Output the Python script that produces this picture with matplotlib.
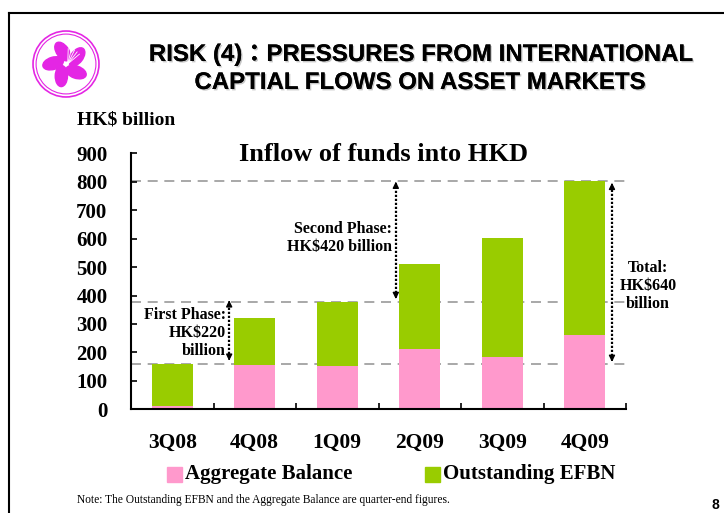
import matplotlib
matplotlib.use("Agg")
import matplotlib.pyplot as plt
import matplotlib.patches as mpatches
import matplotlib.patheffects as pe
import numpy as np

# ---- data ----
categories = ["3Q08", "4Q08", "1Q09", "2Q09", "3Q09", "4Q09"]
aggregate_balance = [10, 156, 152, 212, 184, 262]
outstanding_efbn = [149, 165, 225, 299, 418, 542]
phase_levels = [158, 377, 804]
y_ticks = [0, 100, 200, 300, 400, 500, 600, 700, 800, 900]
legend_labels = ["Aggregate Balance", "Outstanding EFBN"]

PINK = "#FF99CC"
GREEN = "#99CC00"

W, H = 724, 513
fig = plt.figure(figsize=(W / 100, H / 100), dpi=100)
renderer = fig.canvas.get_renderer()


def fx(x):
    return x / W


def fy(y):
    return 1 - y / H


# slide border (top and left visible)
fig.add_artist(plt.Line2D([fx(9), 1.0], [fy(13), fy(13)], color="black", lw=1.5))
fig.add_artist(plt.Line2D([fx(9), fx(9)], [fy(13), 0.0], color="black", lw=1.5))

# ---- logo ----
lax = fig.add_axes([fx(31), fy(98), fx(70), 1 - fy(68)])
lax.set_xlim(-1, 1)
lax.set_ylim(-1, 1)
lax.set_aspect("equal")
lax.axis("off")
MAG = "#E426E4"
lax.add_patch(mpatches.Circle((0, 0), 0.97, fill=False, ec=MAG, lw=1.2))
lax.add_patch(mpatches.Circle((0, 0), 0.88, fill=False, ec=MAG, lw=0.8))
for k in range(5):
    ang = 90 + 72 * k + 15
    r = 0.38
    cx, cy = r * np.cos(np.radians(ang)), r * np.sin(np.radians(ang))
    lax.add_patch(mpatches.Ellipse((cx, cy), 0.62, 0.36, angle=ang + 20, color=MAG))
for k in range(5):
    ang = 40 + 12 * k
    lax.plot([0.05, 0.05 + 0.45 * np.cos(np.radians(ang))],
             [0.0, 0.45 * np.sin(np.radians(ang))], color="white", lw=0.6)

# ---- title ----
shadow = [pe.withSimplePatchShadow(offset=(1.0, -1.0), shadow_rgbFace="#999999", alpha=0.55),
          pe.Normal()]
SANS = ["Liberation Sans", "DejaVu Sans"]
CJK = ["Noto Sans CJK TC", "DejaVu Sans"]
TSIZE = 17.3
title_pieces = [("RISK (4)", SANS), ("：", CJK), ("PRESSURES FROM INTERNATIONAL", SANS)]
title_line2 = "CAPTIAL FLOWS ON ASSET MARKETS"

# measure pieces of line 1 to centre them
widths = []
tmp = []
for s, fam in title_pieces:
    t = fig.text(0, 0, s, fontsize=TSIZE, fontweight="bold", family=fam)
    widths.append(t.get_window_extent(renderer).width)
    tmp.append(t)
for t in tmp:
    t.remove()
total = sum(widths)
xpos = 421 - total / 2
for (s, fam), w in zip(title_pieces, widths):
    fig.text(fx(xpos), fy(52), s, ha="left", va="center_baseline", fontsize=TSIZE,
             fontweight="bold", family=fam, path_effects=shadow)
    xpos += w
fig.text(fx(420), fy(80), title_line2, ha="center", va="center_baseline", fontsize=TSIZE,
         fontweight="bold", family=SANS, path_effects=shadow)

SERIF = ["Liberation Serif", "DejaVu Serif"]
fig.text(fx(77), fy(120), "HK$ billion", ha="left", va="center", fontsize=14,
         fontweight="bold", family=SERIF)

# ---- chart ----
ax = fig.add_axes([fx(131), fy(409.3), fx(626) - fx(131), fy(153.3) - fy(409.3)])
x = np.arange(len(categories))
ax.bar(x, aggregate_balance, width=0.5, color=PINK, zorder=2)
ax.bar(x, outstanding_efbn, width=0.5, bottom=aggregate_balance, color=GREEN, zorder=2)
ax.set_xlim(-0.5, len(categories) - 0.5)
ax.set_ylim(0, 900)

for spine in ["top", "right"]:
    ax.spines[spine].set_visible(False)
for spine in ["left", "bottom"]:
    ax.spines[spine].set_linewidth(1.5)

ax.set_yticks(y_ticks)
ax.set_yticklabels([str(v) for v in y_ticks], fontsize=15, fontweight="bold", family=SERIF)
ax.tick_params(axis="y", direction="in", length=4, width=1.2, pad=17)

ax.set_xticks(x)
ax.set_xticklabels(categories, fontsize=15.5, fontweight="bold", family=SERIF)
ax.tick_params(axis="x", which="major", length=0, pad=17)
ax.set_xticks(np.arange(-0.5, len(categories), 1.0)[1:], minor=True)
ax.tick_params(axis="x", which="minor", direction="in", length=4, width=1.2)

# dashed reference lines
for lvl in phase_levels:
    ax.axhline(lvl, color="#999999", lw=1.2, ls=(0, (6, 4)), zorder=1, clip_on=False)


def vertical_arrow(xc, y0, y1):
    ax.plot([xc, xc], [y0 + 8, y1 - 8], color="black", lw=1.6, ls=(0, (1, 0.8)), zorder=3)
    for a, b in [(y1 - 10, y1), (y0 + 10, y0)]:
        ax.annotate("", xy=(xc, b), xytext=(xc, a),
                    arrowprops=dict(arrowstyle="-|>", color="black", lw=1,
                                    mutation_scale=9, shrinkA=0, shrinkB=0), zorder=3)


vertical_arrow(0.69, 171, 383)
vertical_arrow(2.71, 388, 800)
vertical_arrow(5.33, 167, 796)

ann_kw = dict(fontsize=11.5, fontweight="bold", family=SERIF, linespacing=1.15)
fig.text(fx(226), fy(333), "First Phase:\nHK$220\nbillion", ha="right", va="center", **ann_kw)
fig.text(fx(392), fy(238), "Second Phase:\nHK$420 billion", ha="right", va="center", **ann_kw)
fig.text(fx(648), fy(286), "Total:\nHK$640\nbillion", ha="center", va="center", multialignment="center", **ann_kw)

fig.text(fx(383.5), fy(155), "Inflow of funds into HKD", ha="center", va="center",
         fontsize=19, fontweight="bold", family=SERIF)

# ---- legend ----
for (x0, col, lab) in [(167, PINK, legend_labels[0]), (425, GREEN, legend_labels[1])]:
    fig.add_artist(mpatches.Rectangle((fx(x0), fy(482)), 15 / W, 15 / H, color=col,
                                      transform=fig.transFigure))
    fig.text(fx(x0 + 18), fy(474), lab, ha="left", va="center", fontsize=15,
             fontweight="bold", family=SERIF)

fig.text(fx(77), fy(500), "Note: The Outstanding EFBN and the Aggregate Balance are quarter-end figures.",
         ha="left", va="center", fontsize=8.3, family=SERIF)
fig.text(fx(715), fy(505), "8", ha="center", va="center", fontsize=10, fontweight="bold",
         family=["Liberation Sans", "DejaVu Sans"])

fig.savefig("out.png", dpi=100)
